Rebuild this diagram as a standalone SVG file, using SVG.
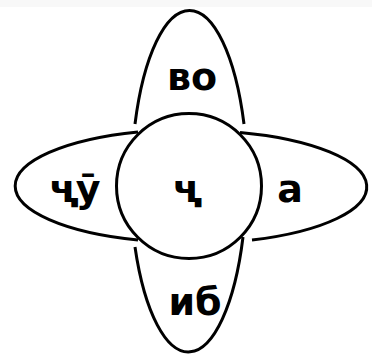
<svg xmlns="http://www.w3.org/2000/svg" width="372" height="363" viewBox="0 0 372 363">
<style>
.ln{fill:none;stroke:#000;stroke-width:3}
.lb{font-family:"DejaVu Sans","Liberation Sans",sans-serif;font-weight:bold;font-size:38px;fill:#000;text-anchor:middle}
</style>
<rect x="0" y="0" width="372" height="363" fill="#fff"/>
<rect x="0" y="0" width="372" height="7" fill="#f8f8f8"/>
<g id="connectors"></g>
<g id="top">
<path class="ln" d="M135,124 A58.2,175 0 0 1 244,124"/>
<text class="lb" x="192" y="90">во</text>
</g>
<g id="bottom">
<path class="ln" d="M243,237 A58.2,175 0 0 1 135,247"/>
<text class="lb" x="195" y="315">иб</text>
</g>
<g id="left">
<path class="ln" d="M138,240 A174,56.5 0 0 1 138,132"/>
<text class="lb" x="75" y="202">ҷӯ</text>
</g>
<g id="right">
<path class="ln" d="M240,132.5 A174,56.5 0 0 1 252,240"/>
<text class="lb" x="290" y="202">а</text>
</g>
<g id="center">
<circle class="ln" cx="189" cy="186" r="72.5"/>
<text class="lb" x="186" y="202">ҷ</text>
</g>
</svg>
